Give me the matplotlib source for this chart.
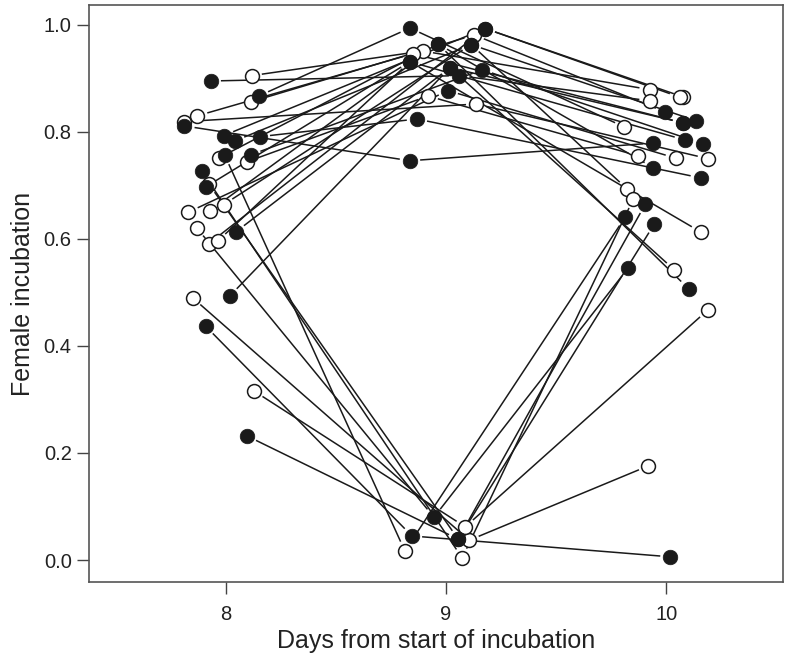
import numpy as np
import matplotlib.pyplot as plt

plt.rcParams['font.family'] = ['Liberation Sans', 'DejaVu Sans']

# one entry per nest: position on day 8, day 9 and day 10 (x is jittered)
day8_x = [8.150, 8.118, 7.932, 7.872, 7.809, 7.813, 8.155, 8.114, 7.991, 8.041,
          7.968, 8.114, 8.096, 7.909, 7.831, 7.927, 7.991, 8.046, 7.923, 7.964,
          8.018, 7.995, 7.923, 7.891, 7.868, 7.850, 7.909, 8.128, 8.096]
day8_y = [0.867, 0.905, 0.895, 0.830, 0.819, 0.811, 0.791, 0.856, 0.793, 0.783,
          0.751, 0.757, 0.744, 0.697, 0.650, 0.652, 0.664, 0.613, 0.591, 0.596,
          0.493, 0.757, 0.703, 0.727, 0.621, 0.490, 0.437, 0.316, 0.232]
day8_filled = [1, 0, 1, 0, 0, 1, 1, 0, 1, 1,
               0, 1, 0, 1, 0, 0, 0, 1, 0, 0,
               1, 1, 0, 1, 0, 0, 1, 0, 1]

day9_x = [8.836, 8.895, 9.059, 8.850, 9.137, 8.836, 8.868, 9.128, 9.178, 9.114,
          8.964, 9.164, 8.918, 8.836, 9.009, 8.964, 9.114, 9.018, 9.178, 8.836,
          9.018, 8.813, 9.055, 9.073, 8.945, 9.105, 8.845, 9.087, 9.055]
day9_y = [0.994, 0.951, 0.905, 0.946, 0.852, 0.746, 0.824, 0.981, 0.993, 0.963,
          0.964, 0.916, 0.867, 0.931, 0.877, 0.964, 0.963, 0.920, 0.993, 0.931,
          0.920, 0.017, 0.039, 0.004, 0.080, 0.037, 0.045, 0.062, 0.039]
day9_filled = [1, 0, 1, 0, 0, 1, 1, 0, 1, 1,
               1, 1, 0, 1, 1, 1, 1, 1, 1, 1,
               1, 0, 1, 0, 1, 0, 1, 0, 1]

day10_x = [9.809, 9.923, 9.923, 10.073, 10.187, 9.941, 10.155, 9.995, 10.077, 10.132,
           10.100, 10.164, 9.872, 10.082, 10.041, 9.941, 9.822, 10.036, 10.059, 10.155,
           10.073, 9.813, 9.945, 9.850, 9.827, 9.918, 10.018, 10.187, 9.904]
day10_y = [0.809, 0.879, 0.858, 0.817, 0.750, 0.779, 0.714, 0.837, 0.865, 0.821,
           0.507, 0.778, 0.755, 0.785, 0.751, 0.733, 0.693, 0.542, 0.865, 0.613,
           0.817, 0.641, 0.628, 0.675, 0.546, 0.176, 0.006, 0.467, 0.665]
day10_filled = [0, 0, 0, 1, 0, 1, 1, 1, 0, 1,
                1, 1, 0, 1, 0, 1, 0, 0, 0, 0,
                1, 1, 1, 0, 1, 0, 1, 0, 1]

fig = plt.figure(figsize=(7.89, 6.64), dpi=100)
ax = fig.add_axes([0.1128, 0.1235, 0.88, 0.869])
ax.set_xlim(7.38, 10.53)
ax.set_ylim(-0.041, 1.037)
ax.set_autoscale_on(False)

ink = '#1a1a1a'


def draw_track(xs, ys, gap=11):
    # lines stop short of the points, like R's type="b"
    pts = ax.transData.transform(np.column_stack([xs, ys]))
    inv = ax.transData.inverted()
    for a, b in zip(pts[:-1], pts[1:]):
        d = b - a
        n = np.hypot(d[0], d[1])
        if n <= 2 * gap:
            continue
        u = d / n
        seg = inv.transform(np.array([a + u * gap, b - u * gap]))
        ax.plot(seg[:, 0], seg[:, 1], color=ink, lw=1.1, zorder=2)


for i in range(len(day8_x)):
    draw_track([day8_x[i], day9_x[i], day10_x[i]],
               [day8_y[i], day9_y[i], day10_y[i]])

xs = np.array(day8_x + day9_x + day10_x)
ys = np.array(day8_y + day9_y + day10_y)
filled = np.array(day8_filled + day9_filled + day10_filled) == 1

ax.plot(xs[~filled], ys[~filled], 'o', ms=10, mfc='white', mec=ink,
        mew=1.1, zorder=3)
ax.plot(xs[filled], ys[filled], 'o', ms=10.5, mfc=ink, mec=ink,
        mew=0.5, zorder=4)

ax.set_xticks([8, 9, 10])
ax.set_xticklabels(['8', '9', '10'])
ax.set_yticks([0.0, 0.2, 0.4, 0.6, 0.8, 1.0])
ax.set_yticklabels(['0.0', '0.2', '0.4', '0.6', '0.8', '1.0'])
ax.tick_params(length=8.5, width=1.0, color='#444444', labelsize=14.5,
               labelcolor='#222222', pad=4)
ax.tick_params(axis='x', pad=8)
for s in ax.spines.values():
    s.set_color('#555555')
    s.set_linewidth(1.2)

ax.set_xlabel('Days from start of incubation', fontsize=18, color='#222222',
              labelpad=4)
ax.set_ylabel('Female incubation', fontsize=18, color='#222222', labelpad=6)

fig.savefig('out.png', dpi=100)
